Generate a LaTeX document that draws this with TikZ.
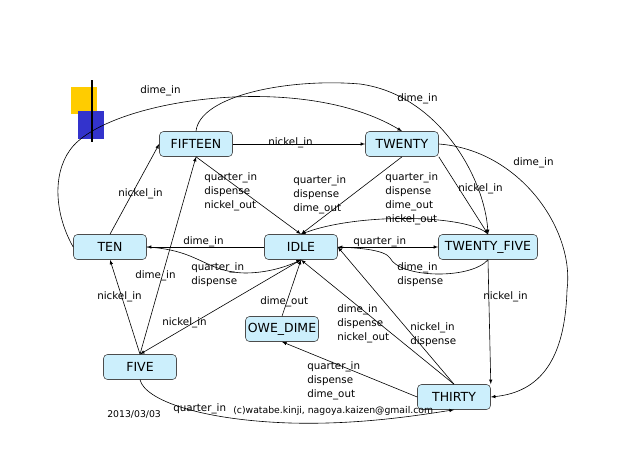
\documentclass[tikz,border=0pt]{standalone}
\usepackage{fontspec}
\setmainfont{DejaVu Sans}
\usetikzlibrary{arrows,positioning}
\definecolor{decoyellow}{HTML}{FFCC00}
\definecolor{decoblue}{HTML}{3333CC}

\begin{document}
\begin{tikzpicture}[x=1pt,y=-1pt,>=latex,line width=0.6pt]
		\tikzset{statebox/.style={draw=black!70,fill=cyan!20,rounded corners=4pt,
				minimum width=73pt,minimum height=25pt,inner xsep=2pt,
				font=\fontsize{12.5}{14}\selectfont}}
		\tikzset{trans/.style={anchor=north west,align=left,inner sep=0pt,
				font=\fontsize{10.3}{14}\selectfont}}
		\useasboundingbox (0,0) rectangle (638,451);
		% logo squares
		\fill[decoyellow] (71,87) rectangle (97,114);
		\fill[decoblue] (78,111) rectangle (104,139);
		\draw[line width=1.5pt] (92,80) -- (92,142);
		% states
		\node[statebox] (fifteen) at (196,144) {FIFTEEN};
		\node[statebox] (twenty) at (402,144) {TWENTY};
		\node[statebox] (ten) at (110,247) {TEN};
		\node[statebox] (idle) at (301,247) {IDLE};
		\node[statebox,minimum width=99pt] (twentyfive) at (488,247) {TWENTY\_FIVE};
		\node[statebox] (owedime) at (282,329) {OWE\_DIME};
		\node[statebox] (five) at (140,367) {FIVE};
		\node[statebox] (thirty) at (454,397) {THIRTY};
		% transitions
		\draw[->] (fifteen) -- (twenty);
		\draw[->] (fifteen.south) -- (idle.north);
		\draw[->] (twenty.south) -- (idle.north);
		\draw[->] (twenty.south east) -- (twentyfive.north);
		\draw[->] (ten.north) -- (fifteen.west);
		\draw[->] (idle.west) -- (ten.east);
		\draw[->] (idle.east) -- (twentyfive.west);
		\draw[->] (five.north) -- (ten.south);
		\draw[->] (five.north) -- (fifteen.south);
		\draw[->] (idle.south) -- (five.north);
		\draw[->] (owedime.north) -- (idle.south);
		\draw[->] (twentyfive.south) -- (thirty.north east);
		\draw[->] (thirty.west) -- (owedime.south);
		\draw[->] (thirty.north) -- (idle.south);
		\draw[->] (thirty.north) -- (idle.east);
		\draw[->] (ten.west) .. controls (55,215) and (52,175) .. (70,150)
			.. controls (105,100) and (300,70) .. (twenty.north);
		\draw[->] (fifteen.north) .. controls (200,95) and (290,78) .. (360,84)
			.. controls (440,95) and (485,180) .. (twentyfive.north);
		\draw[->] (twenty.east) .. controls (520,150) and (575,230) .. (567,290)
			.. controls (565,360) and (540,392) .. (thirty.east);
		\draw[->] (twentyfive.north) .. controls (470,215) and (360,212) .. (idle.north);
		\draw[->] (twentyfive.south) .. controls (470,280) and (400,278) .. (390,258)
			.. controls (385,250) and (360,248) .. (idle.east);
		\draw[->] (ten.east) .. controls (200,250) and (205,272) .. (245,273)
			.. controls (270,273) and (290,265) .. (idle.south);
		\draw[->] (five.south) .. controls (145,400) and (200,420) .. (290,423)
			.. controls (360,425) and (420,415) .. (thirty.south);
		% labels
		\node[trans] (t-ten-twenty) at (140,85) {dime\_in};
		\node[trans] (t-fifteen-twentyfive) at (397,93) {dime\_in};
		\node[trans] (t-fifteen-twenty) at (268,137) {nickel\_in};
		\node[trans] (t-twenty-thirty) at (513,157) {dime\_in};
		\node[trans] (t-fifteen-idle) at (204,172) {quarter\_in\\dispense\\nickel\_out};
		\node[trans] (t-twenty-idle) at (293,175) {quarter\_in\\dispense\\dime\_out};
		\node[trans] (t-twentyfive-idle) at (385,172) {quarter\_in\\dispense\\dime\_out\\nickel\_out};
		\node[trans] (t-twenty-twentyfive) at (458,183) {nickel\_in};
		\node[trans] (t-ten-fifteen) at (118,188) {nickel\_in};
		\node[trans] (t-idle-ten) at (183,236) {dime\_in};
		\node[trans] (t-idle-twentyfive) at (353,236) {quarter\_in};
		\node[trans] (t-ten-idle) at (191,262) {quarter\_in\\dispense};
		\node[trans] (t-twentyfive-back) at (397,262) {dime\_in\\dispense};
		\node[trans] (t-five-fifteen) at (135,270) {dime\_in};
		\node[trans] (t-five-ten) at (97,291) {nickel\_in};
		\node[trans] (t-twentyfive-thirty) at (483,291) {nickel\_in};
		\node[trans] (t-owedime-idle) at (260,296) {dime\_out};
		\node[trans] (t-idle-five) at (162,317) {nickel\_in};
		\node[trans] (t-thirty-idle) at (337,304) {dime\_in\\dispense\\nickel\_out};
		\node[trans] (t-thirty-idle2) at (410,322) {nickel\_in\\dispense};
		\node[trans] (t-thirty-owedime) at (307,361) {quarter\_in\\dispense\\dime\_out};
		\node[trans] (t-five-thirty) at (173,403) {quarter\_in};
		\node[trans,font=\fontsize{9.3}{11}\selectfont] (date) at (107,410) {2013/03/03};
		\node[trans,font=\fontsize{9.3}{11}\selectfont] (credit) at (233,406) {(c)watabe.kinji, nagoya.kaizen@gmail.com};
	\end{tikzpicture}
\end{document}
